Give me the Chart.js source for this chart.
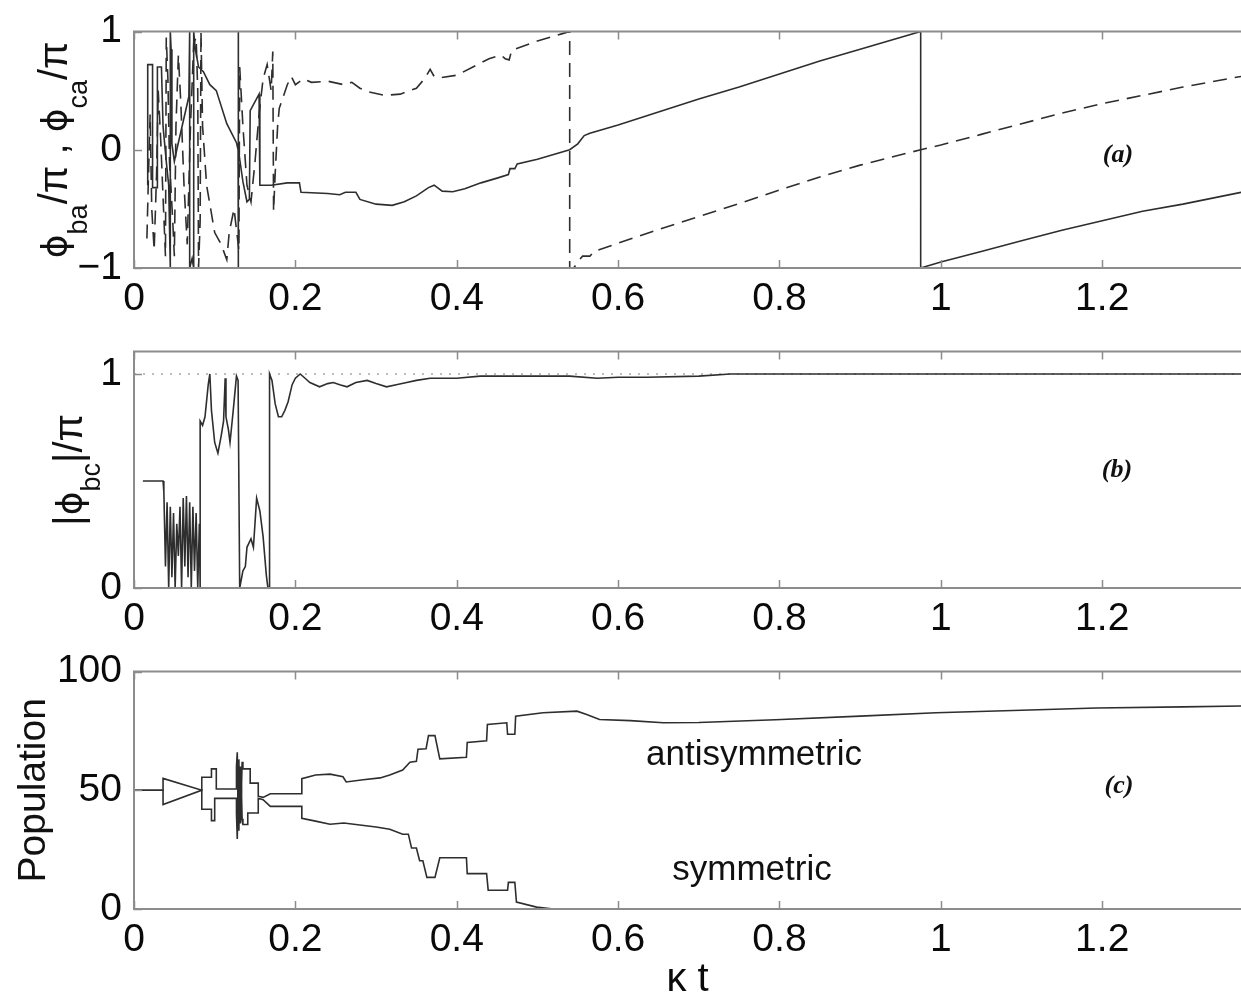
<!DOCTYPE html>
<html><head><meta charset="utf-8">
<script src="https://cdn.jsdelivr.net/npm/chart.js@4.4.0/dist/chart.umd.min.js"></script>
<style>
html,body{margin:0;padding:0;background:#fff;}
#wrap{position:relative;width:1241px;height:1000px;overflow:hidden;background:#fff;}
canvas{position:absolute;left:0;}
</style></head><body>
<div id="wrap">
<canvas id="cA" width="1241" height="320" style="top:0px"></canvas>
<canvas id="cB" width="1241" height="320" style="top:320px"></canvas>
<canvas id="cC" width="1241" height="360" style="top:640px"></canvas>
</div>
<script>
// ---------------- data ----------------
const xTicks = [0, 0.2, 0.4, 0.6, 0.8, 1, 1.2];
const xTickLabels = ["0", "0.2", "0.4", "0.6", "0.8", "1", "1.2"];
const yTicksA = [-1, 0, 1];
const yTickLabelsA = ["\u22121", "0", "1"];
const yTicksB = [0, 1];
const yTickLabelsB = ["0", "1"];
const yTicksC = [0, 50, 100];
const yTickLabelsC = ["0", "50", "100"];

// panel (a) solid: phi_ba / pi
const phiBaX = [0.017,0.017,0.023,0.023,0.029,0.029,0.034,0.036,0.040,0.043,0.045,0.045,0.046,0.047,0.050,0.053,0.058,0.063,0.068,0.069,0.069,0.072,0.074,0.074,0.076,0.080,0.086,0.094,0.102,0.115,0.127,0.129,0.129,0.129,0.130,0.135,0.140,0.143,0.144,0.155,0.156,0.156,0.170,0.190,0.205,0.207,0.240,0.255,0.262,0.275,0.280,0.300,0.320,0.335,0.350,0.365,0.372,0.382,0.395,0.410,0.430,0.450,0.464,0.466,0.472,0.475,0.500,0.540,0.550,0.558,0.565,0.600,0.650,0.700,0.750,0.800,0.850,0.900,0.975,0.975,1.000,1.050,1.100,1.150,1.200,1.250,1.300,1.372];
const phiBaY = [-0.30,0.72,0.72,-0.32,-0.32,0.70,0.70,0.20,-0.10,-0.30,-1.0,1.0,0.85,0.05,-0.10,0.0,0.15,0.30,0.45,1.0,-1.0,-0.92,-1.0,1.0,0.85,0.70,0.66,0.55,0.50,0.22,0.06,0.0,-1.0,1.0,0.0,-0.27,-0.44,-0.42,0.33,0.47,0.47,-0.30,-0.30,-0.28,-0.28,-0.36,-0.37,-0.38,-0.36,-0.36,-0.42,-0.46,-0.47,-0.44,-0.39,-0.32,-0.30,-0.35,-0.355,-0.33,-0.28,-0.24,-0.21,-0.16,-0.16,-0.12,-0.08,0.0,0.05,0.12,0.14,0.21,0.32,0.43,0.53,0.64,0.75,0.85,1.0,-1.0,-0.95,-0.86,-0.77,-0.68,-0.60,-0.52,-0.46,-0.36];

// panel (a) dashed: phi_ca / pi
const phiCaX = [0.016,0.018,0.020,0.022,0.025,0.028,0.030,0.033,0.036,0.039,0.040,0.042,0.044,0.048,0.050,0.052,0.055,0.058,0.062,0.066,0.070,0.074,0.077,0.079,0.080,0.082,0.083,0.085,0.090,0.100,0.108,0.115,0.118,0.124,0.130,0.131,0.135,0.140,0.145,0.150,0.155,0.160,0.165,0.170,0.172,0.173,0.175,0.178,0.180,0.190,0.195,0.200,0.210,0.220,0.240,0.260,0.270,0.280,0.290,0.310,0.330,0.350,0.360,0.367,0.372,0.380,0.400,0.420,0.440,0.455,0.460,0.465,0.468,0.500,0.530,0.540,0.540,0.545,0.552,0.556,0.565,0.570,0.600,0.650,0.700,0.750,0.800,0.850,0.900,0.975,1.000,1.050,1.100,1.150,1.200,1.250,1.300,1.372];
const phiCaY = [-0.75,-0.20,0.30,-0.50,-0.85,-0.20,0.50,0.10,-0.40,-0.90,0.95,0.60,-0.10,-0.60,-0.90,0.20,0.80,0.40,-0.30,-0.80,0.20,0.90,0.95,0.50,-1.0,-0.60,1.0,0.20,-0.30,-0.70,-0.80,-0.93,-0.70,-0.50,-0.85,0.70,0.20,-0.30,-0.44,-0.10,0.30,0.60,0.72,0.50,0.83,-0.52,-0.20,0.20,0.35,0.55,0.62,0.55,0.60,0.57,0.58,0.55,0.57,0.52,0.49,0.46,0.47,0.52,0.60,0.68,0.62,0.61,0.63,0.70,0.77,0.80,0.77,0.76,0.84,0.92,0.98,1.0,-1.0,-1.0,-0.93,-0.90,-0.90,-0.86,-0.79,-0.675,-0.565,-0.455,-0.34,-0.23,-0.13,0.0,0.04,0.13,0.22,0.31,0.39,0.46,0.53,0.62];

// panel (b): |phi_bc| / pi
const phiBcX = [0.011,0.036,0.037,0.039,0.041,0.043,0.045,0.047,0.049,0.051,0.053,0.055,0.057,0.059,0.061,0.063,0.065,0.067,0.069,0.071,0.073,0.075,0.077,0.079,0.081,0.082,0.082,0.085,0.088,0.092,0.094,0.096,0.100,0.104,0.108,0.111,0.113,0.114,0.117,0.119,0.123,0.127,0.129,0.131,0.135,0.138,0.140,0.145,0.148,0.152,0.156,0.160,0.164,0.166,0.168,0.168,0.171,0.175,0.179,0.183,0.187,0.191,0.196,0.200,0.206,0.212,0.218,0.230,0.240,0.247,0.255,0.264,0.275,0.289,0.300,0.313,0.325,0.338,0.350,0.367,0.400,0.429,0.490,0.540,0.574,0.600,0.636,0.700,0.739,1.372];
const phiBcY = [0.50,0.50,0.45,0.10,0.40,0.0,0.38,0.05,0.35,0.0,0.30,0.15,0.38,0.0,0.42,0.10,0.43,0.05,0.40,0.0,0.38,0.08,0.35,0.0,0.30,0.0,0.78,0.76,0.80,0.95,1.0,0.83,0.68,0.63,0.71,0.78,0.98,0.80,0.74,0.68,0.83,0.99,0.97,0.0,0.08,0.10,0.19,0.23,0.19,0.42,0.36,0.24,0.06,0.0,0.0,1.0,0.97,0.86,0.80,0.80,0.83,0.87,0.95,0.98,1.0,0.98,0.96,0.94,0.955,0.96,0.95,0.94,0.96,0.97,0.955,0.94,0.95,0.96,0.97,0.98,0.98,0.99,0.99,0.99,0.98,0.985,0.985,0.99,1.0,1.0];
const refLineX = [0, 1.372];
const refLineY = [1, 1];

// panel (c): populations
const antiX = [0,0.036,0.036,0.084,0.084,0.096,0.096,0.102,0.102,0.127,0.127,0.128,0.129,0.130,0.131,0.132,0.133,0.134,0.135,0.144,0.144,0.154,0.154,0.160,0.169,0.208,0.208,0.225,0.243,0.259,0.263,0.284,0.305,0.317,0.333,0.342,0.350,0.352,0.362,0.365,0.373,0.379,0.412,0.413,0.437,0.438,0.462,0.463,0.472,0.473,0.507,0.549,0.561,0.577,0.615,0.656,0.700,0.795,0.900,0.994,1.100,1.193,1.300,1.372];
const antiY = [50,50,55,50,55.5,55.5,59,59,50.5,50.5,60,66,45,63,40,60,48,62,59,59,53,53,47.5,47,48.5,48.5,54.9,56.4,56.8,55.7,53.5,54.4,55.2,56.4,58.5,61.8,62.2,67.3,67.5,73,73,63.2,63.9,70.1,70.8,77.7,78.4,73.6,73.6,81.2,82.6,83.3,81.9,79.8,79.3,78.4,78.5,79.7,81.2,82.6,83.7,84.6,85.1,85.5];
const symX = [0,0.036,0.036,0.084,0.084,0.096,0.096,0.100,0.100,0.127,0.127,0.128,0.129,0.130,0.131,0.132,0.133,0.134,0.135,0.141,0.141,0.154,0.154,0.160,0.169,0.208,0.208,0.225,0.243,0.260,0.300,0.317,0.333,0.340,0.344,0.350,0.354,0.358,0.363,0.373,0.379,0.412,0.413,0.437,0.439,0.463,0.464,0.472,0.474,0.499,0.520,1.372];
const symY = [50,50,44,50,42,42,37.2,37.2,46.6,46.6,40,29.5,55,33,58,36,52,38,35.6,35.6,40.4,40.4,46.6,46,43.2,43.2,38.2,37,35.7,36.2,34.5,33.6,31.5,31.5,25.7,25.7,20.3,20.3,13.3,13.3,21.6,21.6,14.9,14.9,7.9,7.9,11.2,11.2,2.9,0.8,0,0];

// ---------------- helpers ----------------
const pts = (xs, ys) => xs.map((x, i) => ({x: x, y: ys[i]}));
const FONT = '"Liberation Sans", Arial, Helvetica, sans-serif';
const PHI_FONT = '"DejaVu Sans", "Liberation Sans", sans-serif';
const LINE = '#2e2e2e';
const FRAME = '#8c8c8c';
const XMAX = 1.372;

function framePlugin(opts) {
  return {
    id: 'frame',
    afterDatasetsDraw(chart) {
      const {ctx, chartArea: a, scales: {x, y}} = chart;
      ctx.save();
      ctx.strokeStyle = FRAME;
      ctx.lineWidth = 2;
      ctx.beginPath();
      ctx.moveTo(a.right + 2, a.top);
      ctx.lineTo(a.left, a.top);
      ctx.lineTo(a.left, a.bottom);
      ctx.lineTo(a.right + 2, a.bottom);
      ctx.stroke();
      ctx.lineWidth = 1.5;
      ctx.beginPath();
      x.ticks.forEach(t => {
        const px = Math.round(x.getPixelForValue(t.value)) + 0.5;
        ctx.moveTo(px, a.top); ctx.lineTo(px, a.top + 8);
        ctx.moveTo(px, a.bottom); ctx.lineTo(px, a.bottom - 8);
      });
      y.ticks.forEach(t => {
        const py = Math.round(y.getPixelForValue(t.value)) + 0.5;
        ctx.moveTo(a.left, py); ctx.lineTo(a.left + 8, py);
      });
      ctx.stroke();
      // y title (rotated, with subscripts)
      const pieces = opts.title;
      ctx.fillStyle = '#111';
      ctx.textBaseline = 'alphabetic';
      ctx.textAlign = 'left';
      let total = 0;
      pieces.forEach(p => { ctx.font = p.size + 'px ' + (p.f || FONT); p.w = ctx.measureText(p.t).width; total += p.w; });
      ctx.save();
      ctx.translate(opts.titleX, (a.top + a.bottom) / 2);
      ctx.rotate(-Math.PI / 2);
      let cx = -total / 2;
      pieces.forEach(p => {
        ctx.font = p.size + 'px ' + (p.f || FONT);
        ctx.fillText(p.t, cx, p.dy || 0);
        cx += p.w;
      });
      ctx.restore();
      // notes
      (opts.notes || []).forEach(n => {
        ctx.font = n.font;
        ctx.textAlign = 'center';
        ctx.textBaseline = 'middle';
        ctx.fillStyle = '#111';
        ctx.fillText(n.t, n.x, n.y);
      });
      ctx.restore();
    }
  };
}

function xScale(height, title) {
  return {
    type: 'linear', min: 0, max: XMAX,
    afterBuildTicks: s => { s.ticks = xTicks.map(v => ({value: v})); },
    afterFit: s => { s.height = height; },
    grid: {display: false, drawTicks: false},
    border: {display: false},
    ticks: {
      callback: (v, i) => xTickLabels[i],
      font: {family: FONT, size: 39, lineHeight: 1},
      color: '#0a0a0a', padding: 12, maxRotation: 0, autoSkip: false
    },
    title: title ? {display: true, text: title, font: {family: FONT, size: 40, lineHeight: 1}, color: '#0a0a0a', padding: {top: 0, bottom: 0}} : {display: false}
  };
}
function yScale(min, max, tv, tl) {
  return {
    type: 'linear', min: min, max: max,
    afterBuildTicks: s => { s.ticks = tv.map(v => ({value: v})); },
    afterFit: s => { s.width = 134; },
    grid: {display: false, drawTicks: false},
    border: {display: false},
    ticks: {
      callback: (v, i) => tl[i],
      font: {family: FONT, size: 39, lineHeight: 1},
      color: '#0a0a0a', padding: 12, autoSkip: false
    }
  };
}
function baseOpts(top, xs, ys) {
  return {
    responsive: false, animation: false, devicePixelRatio: 1,
    layout: {padding: {top: top, left: 0, right: 0, bottom: 0}},
    plugins: {legend: {display: false}, tooltip: {enabled: false}},
    elements: {point: {radius: 0}, line: {tension: 0}},
    scales: {x: xs, y: ys}
  };
}
const NOTE_FONT = 'italic bold 26px "Liberation Serif", "Times New Roman", serif';

// ---------------- panel (a) ----------------
new Chart(document.getElementById('cA'), {
  type: 'line',
  data: {datasets: [
    {data: pts(phiBaX, phiBaY), borderColor: LINE, borderWidth: 1.6, fill: false},
    {data: pts(phiCaX, phiCaY), borderColor: LINE, borderWidth: 1.6, borderDash: [14, 8], fill: false}
  ]},
  options: baseOpts(26, xScale(52), yScale(-1, 1, yTicksA, yTickLabelsA)),
  plugins: [framePlugin({
    titleX: 67,
    title: [
      {t: '\u03D5', size: 36, f: PHI_FONT}, {t: 'ba', size: 27, dy: 20}, {t: '/\u03C0', size: 40},
      {t: ' , ', size: 40},
      {t: '\u03D5', size: 36, f: PHI_FONT}, {t: 'ca', size: 27, dy: 20}, {t: '/\u03C0', size: 40}
    ],
    notes: [{t: '(a)', x: 1118, y: 155, font: NOTE_FONT}]
  })]
});

// ---------------- panel (b) ----------------
new Chart(document.getElementById('cB'), {
  type: 'line',
  data: {datasets: [
    {data: pts(phiBcX, phiBcY), borderColor: LINE, borderWidth: 1.6, fill: false, order: 0},
    {data: pts(refLineX, refLineY), borderColor: '#a8a8a8', borderWidth: 1.5, borderDash: [2, 7], fill: false, order: 1}
  ]},
  options: baseOpts(26, xScale(52), yScale(0, 1.105, yTicksB, yTickLabelsB)),
  plugins: [framePlugin({
    titleX: 82,
    title: [
      {t: '|', size: 40}, {t: '\u03D5', size: 36, f: PHI_FONT}, {t: 'bc', size: 27, dy: 18}, {t: '|/\u03C0', size: 40}
    ],
    notes: [{t: '(b)', x: 1117, y: 150, font: NOTE_FONT}]
  })]
});

// ---------------- panel (c) ----------------
new Chart(document.getElementById('cC'), {
  type: 'line',
  data: {datasets: [
    {data: pts(antiX, antiY), borderColor: LINE, borderWidth: 1.6, fill: false},
    {data: pts(symX, symY), borderColor: LINE, borderWidth: 1.6, fill: false}
  ]},
  options: baseOpts(28, xScale(91, '\u03BA t'), yScale(0, 100, yTicksC, yTickLabelsC)),
  plugins: [framePlugin({
    titleX: 45,
    title: [{t: 'Population', size: 39}],
    notes: [
      {t: '(c)', x: 1119, y: 146, font: NOTE_FONT},
      {t: 'antisymmetric', x: 754, y: 115, font: '35px ' + FONT},
      {t: 'symmetric', x: 752, y: 230, font: '35px ' + FONT}
    ]
  })]
});
</script>
</body></html>
